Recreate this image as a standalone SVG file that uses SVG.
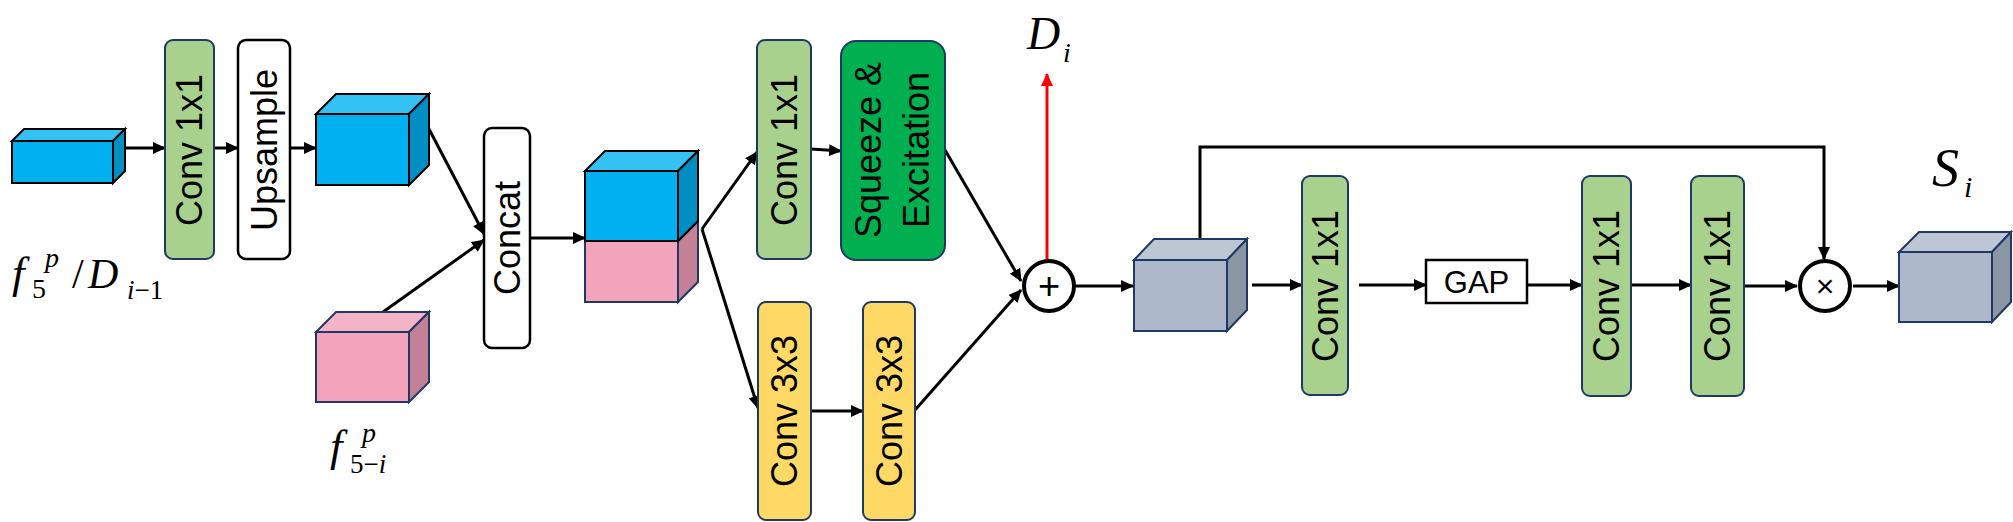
<svg xmlns="http://www.w3.org/2000/svg" width="2013" height="522" viewBox="0 0 2013 522">
<style>
.conv{fill:#A9D18E;stroke:#1F3864;stroke-width:2}
.yel{fill:#FFD966;stroke:#1F3864;stroke-width:2}
.se{fill:#00B050;stroke:#1F3864;stroke-width:2}
.wht{fill:#fff;stroke:#000;stroke-width:2.5}
.lbl{font-family:"Liberation Sans",Arial,sans-serif;font-size:36px;fill:#000}
.math{font-family:"Liberation Serif","Times New Roman",serif;fill:#000}
.it{font-style:italic}
.c{fill:none;stroke:#000;stroke-width:3}
.r{fill:none;stroke:#FF0000;stroke-width:3}
.bk{stroke:#000;stroke-width:2;stroke-linejoin:miter}
.nv{stroke:#1F3864;stroke-width:2;stroke-linejoin:miter}
.bf{fill:#00B0F0}.bt{fill:#33C2F3}.br{fill:#008FC2}
.pf{fill:#F4A3BD}.pt{fill:#F5B3C8}.pr{fill:#C48097}
.gf{fill:#ADB9CA}.gt{fill:#BCC6D5}.gr{fill:#8B96A4}
.op{fill:#fff;stroke:#000;stroke-width:4}
</style>
<defs>
<marker id="ah" viewBox="0 0 13 12" refX="12" refY="6" markerWidth="13" markerHeight="12" markerUnits="userSpaceOnUse" orient="auto"><path d="M0,0 L13,6 L0,12 z" fill="#000"/></marker>
<marker id="ahr" viewBox="0 0 13 12" refX="12" refY="6" markerWidth="13" markerHeight="12" markerUnits="userSpaceOnUse" orient="auto"><path d="M0,0 L13,6 L0,12 z" fill="#FF0000"/></marker>
</defs>

<g id="connectors">
<line class="c" x1="125" y1="148" x2="165" y2="148" marker-end="url(#ah)"/>
<line class="c" x1="214" y1="148" x2="238" y2="148" marker-end="url(#ah)"/>
<line class="c" x1="290" y1="148" x2="316" y2="148" marker-end="url(#ah)"/>
<line class="c" x1="429" y1="129" x2="484" y2="234" marker-end="url(#ah)"/>
<line class="c" x1="383" y1="312" x2="484" y2="240" marker-end="url(#ah)"/>
<line class="c" x1="530" y1="238" x2="585" y2="238" marker-end="url(#ah)"/>
<line class="c" x1="702" y1="229" x2="757" y2="152" marker-end="url(#ah)"/>
<line class="c" x1="702" y1="229" x2="758" y2="408" marker-end="url(#ah)"/>
<line class="c" x1="811" y1="149" x2="841" y2="151" marker-end="url(#ah)"/>
<line class="c" x1="811" y1="411" x2="863" y2="411" marker-end="url(#ah)"/>
<line class="c" x1="945" y1="150" x2="1021" y2="281" marker-end="url(#ah)"/>
<line class="c" x1="915" y1="410" x2="1021" y2="290" marker-end="url(#ah)"/>
<line class="r" x1="1047" y1="261" x2="1047" y2="74" marker-end="url(#ahr)"/>
<line class="c" x1="1074" y1="286" x2="1133" y2="286" marker-end="url(#ah)"/>
<line class="c" x1="1252" y1="285" x2="1302" y2="285" marker-end="url(#ah)"/>
<line class="c" x1="1359" y1="285" x2="1426" y2="285" marker-end="url(#ah)"/>
<line class="c" x1="1527" y1="285" x2="1582" y2="285" marker-end="url(#ah)"/>
<line class="c" x1="1631" y1="285" x2="1691" y2="285" marker-end="url(#ah)"/>
<line class="c" x1="1744" y1="286" x2="1797" y2="286" marker-end="url(#ah)"/>
<line class="c" x1="1853" y1="286" x2="1899" y2="286" marker-end="url(#ah)"/>
<polyline class="c" points="1200,239 1200,147 1824,147 1824,259" marker-end="url(#ah)"/>
</g>

<g id="cube-input">
<rect class="bf bk" x="12" y="141" width="101" height="42"/>
<polygon class="bt bk" points="12,141 24,129 125,129 113,141"/>
<polygon class="br bk" points="113,141 125,129 125,171 113,183"/>
</g>
<g id="conv1"><rect class="conv" x="165" y="40" width="49" height="219" rx="8"/>
<text class="lbl" transform="translate(189.5,150) rotate(-90)" text-anchor="middle" dominant-baseline="central">Conv 1x1</text></g>
<g id="upsample"><rect class="wht" x="238" y="40" width="52" height="219" rx="8"/>
<text class="lbl" transform="translate(264,150) rotate(-90)" text-anchor="middle" dominant-baseline="central">Upsample</text></g>
<g id="cube-up">
<rect class="bf bk" x="316" y="114" width="93" height="71"/>
<polygon class="bt bk" points="316,114 336,94 429,94 409,114"/>
<polygon class="br bk" points="409,114 429,94 429,165 409,185"/>
</g>
<g id="cube-skip">
<rect class="pf nv" x="316" y="332" width="93" height="70"/>
<polygon class="pt nv" points="316,332 336,312 429,312 409,332"/>
<polygon class="pr nv" points="409,332 429,312 429,382 409,402"/>
</g>
<g id="concat"><rect class="wht" x="484" y="128" width="46" height="220" rx="8"/>
<text class="lbl" transform="translate(507,238) rotate(-90)" text-anchor="middle" dominant-baseline="central">Concat</text></g>
<g id="cube-cat">
<rect class="pf nv" x="585" y="241" width="93" height="61"/>
<polygon class="pr nv" points="678,241 698,221 698,282 678,302"/>
<rect class="bf bk" x="585" y="171" width="93" height="70"/>
<polygon class="bt bk" points="585,171 605,151 698,151 678,171"/>
<polygon class="br bk" points="678,171 698,151 698,221 678,241"/>
</g>
<g id="conv2"><rect class="conv" x="757" y="40" width="54" height="219" rx="8"/>
<text class="lbl" transform="translate(784,150) rotate(-90)" text-anchor="middle" dominant-baseline="central">Conv 1x1</text></g>
<g id="se"><rect class="se" x="841" y="41" width="104" height="219" rx="15"/>
<text class="lbl" transform="translate(868,150) rotate(-90)" text-anchor="middle" dominant-baseline="central">Squeeze &amp;</text>
<text class="lbl" transform="translate(916,150) rotate(-90)" text-anchor="middle" dominant-baseline="central">Excitation</text></g>
<g id="conv3a"><rect class="yel" x="758" y="302" width="53" height="218" rx="8"/>
<text class="lbl" transform="translate(784.5,411) rotate(-90)" text-anchor="middle" dominant-baseline="central">Conv 3x3</text></g>
<g id="conv3b"><rect class="yel" x="863" y="302" width="52" height="218" rx="8"/>
<text class="lbl" transform="translate(889,411) rotate(-90)" text-anchor="middle" dominant-baseline="central">Conv 3x3</text></g>
<g id="plus"><circle class="op" cx="1049" cy="286" r="25"/>
<text class="lbl" x="1049" y="299" font-size="38" text-anchor="middle" style="font-size:38px">+</text></g>
<g id="label-d"><text class="math" font-size="46"><tspan class="it" x="1027" y="49">D</tspan><tspan class="it" x="1063" y="62" font-size="28">i</tspan></text></g>
<g id="cube-sum">
<rect class="gf nv" x="1134" y="260" width="93" height="71"/>
<polygon class="gt nv" points="1134,260 1154,239 1247,239 1227,260"/>
<polygon class="gr nv" points="1227,260 1247,239 1247,310 1227,331"/>
</g>
<g id="conv4"><rect class="conv" x="1302" y="176" width="46" height="219" rx="8"/>
<text class="lbl" transform="translate(1325,286) rotate(-90)" text-anchor="middle" dominant-baseline="central">Conv 1x1</text></g>
<g id="gap"><rect x="1426" y="260" width="101" height="43" fill="#fff" stroke="#000" stroke-width="2.5"/>
<text class="lbl" x="1476.5" y="293" text-anchor="middle" style="font-size:31px">GAP</text></g>
<g id="conv5"><rect class="conv" x="1582" y="176" width="49" height="220" rx="8"/>
<text class="lbl" transform="translate(1606.5,286) rotate(-90)" text-anchor="middle" dominant-baseline="central">Conv 1x1</text></g>
<g id="conv6"><rect class="conv" x="1691" y="176" width="53" height="220" rx="8"/>
<text class="lbl" transform="translate(1717.5,286) rotate(-90)" text-anchor="middle" dominant-baseline="central">Conv 1x1</text></g>
<g id="times"><circle class="op" cx="1825" cy="286" r="25"/>
<text class="lbl" x="1825" y="297" text-anchor="middle" style="font-size:32px">×</text></g>
<g id="cube-out">
<rect class="gf nv" x="1899" y="252" width="93" height="70"/>
<polygon class="gt nv" points="1899,252 1919,232 2011,232 1992,252"/>
<polygon class="gr nv" points="1992,252 2011,232 2011,302 1992,322"/>
</g>
<g id="label-s"><text class="math" font-size="54"><tspan class="it" x="1932" y="186">S</tspan><tspan class="it" x="1964" y="197" font-size="30">i</tspan></text></g>
<g id="label-in"><text class="math">
<tspan class="it" x="12" y="288" font-size="45">f</tspan><tspan x="32" y="298" font-size="28">5</tspan><tspan class="it" x="45" y="267" font-size="28">p</tspan><tspan x="72" y="288" font-size="42">/</tspan><tspan class="it" x="88" y="288" font-size="42">D</tspan><tspan class="it" x="127" y="299" font-size="27">i</tspan><tspan font-size="27">−1</tspan>
</text></g>
<g id="label-skip"><text class="math">
<tspan class="it" x="330" y="461" font-size="45">f</tspan><tspan class="it" x="362" y="442" font-size="28">p</tspan><tspan x="350" y="473" font-size="27">5−</tspan><tspan class="it" font-size="27">i</tspan>
</text></g>
</svg>
